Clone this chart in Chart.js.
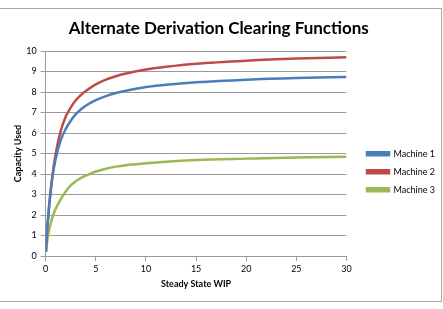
<!DOCTYPE html>
<html>
<head>
<meta charset="utf-8">
<script src="https://cdn.jsdelivr.net/npm/chart.js@4.4.1/dist/chart.umd.min.js"></script>
<style>
  body { margin: 0; background: #fff; }
  #wrap { position: relative; width: 443px; height: 309px; overflow: hidden; }
  #frame { position: absolute; left: -1px; top: 8px; width: 443px; height: 294px; box-sizing: border-box; border: 1px solid #a8a8a8; }
  #myChart { position: absolute; left: 0; top: 0; }
</style>
</head>
<body>
<div id="wrap">
  <div id="frame"></div>
  <canvas id="myChart" width="443" height="309"></canvas>
</div>
<script>
'use strict';

//steady state wip values (x)
let wip = [0.02, 0.1, 0.25, 0.5, 0.75, 1, 1.5, 2, 2.5, 3, 3.5, 4, 5, 6, 7, 8, 10, 12, 15, 20, 25, 30];
//capacity used for each machine
let machine1 = [0.2, 0.95, 1.95, 3.2, 4.1, 4.75, 5.65, 6.2, 6.6, 6.92, 7.15, 7.33, 7.6, 7.8, 7.95, 8.06, 8.24, 8.35, 8.47, 8.6, 8.68, 8.73];
let machine2 = [0.2, 1.0, 1.9, 3.2, 4.2, 5.0, 6.1, 6.8, 7.25, 7.6, 7.85, 8.05, 8.37, 8.6, 8.77, 8.9, 9.1, 9.23, 9.38, 9.53, 9.63, 9.69];
let machine3 = [0.2, 0.55, 1.05, 1.6, 2.0, 2.3, 2.78, 3.15, 3.45, 3.65, 3.8, 3.92, 4.12, 4.26, 4.36, 4.43, 4.52, 4.6, 4.68, 4.75, 4.81, 4.84];
let seriesNames = ['Machine 1', 'Machine 2', 'Machine 3'];
let seriesColors = ['#4a7ebb', '#be4b48', '#98b954'];

//turn x and y arrays into points
function toPoints(ys){
    let pts = [];
    for (let i = 0; i < wip.length; i++){
        pts.push({x: wip[i], y: ys[i]});
    }
    return pts;
}

let allSeries = [machine1, machine2, machine3];
let datasets = [];
for (let i = 0; i < allSeries.length; i++){
    datasets.push({
        label: seriesNames[i],
        data: toPoints(allSeries[i]),
        borderColor: seriesColors[i],
        backgroundColor: seriesColors[i],
        borderWidth: 2.5,
        pointRadius: 0,
        showLine: true,
        tension: 0.4,
        cubicInterpolationMode: 'monotone'
    });
}

Chart.defaults.font.family = 'Lato';
Chart.defaults.color = '#000';

let gridColor = '#9a9a9a';
let plotRight = 346.5;
let legendShiftX = 11.5;
let legendShiftY = 25;

//excel puts the legend a bit lower and further right than chart.js does
const legendNudge = {
    id: 'legendNudge',
    afterLayout(chart){
        chart.legend.left += legendShiftX;
        chart.legend.right += legendShiftX;
        chart.legend.top += legendShiftY;
        chart.legend.bottom += legendShiftY;
    }
};

const ctx = document.getElementById('myChart').getContext('2d');
const myChart = new Chart(ctx, {
    type: 'scatter',
    data: { datasets: datasets },
    plugins: [legendNudge],
    options: {
        responsive: false,
        animation: false,
        layout: { padding: { left: 4, top: 0, right: 20, bottom: 15.6 } },
        plugins: {
            title: {
                display: true,
                text: 'Alternate Derivation Clearing Functions',
                font: { size: 17, weight: 'bold' },
                color: '#000',
                padding: { top: 18, bottom: 51 - 18 - 20.4 }
            },
            legend: {
                position: 'right',
                labels: {
                    boxWidth: 22,
                    boxHeight: 3,
                    padding: 9,
                    font: { size: 9 }
                }
            },
            tooltip: { enabled: false }
        },
        scales: {
            x: {
                type: 'linear',
                min: 0,
                max: 30,
                ticks: { stepSize: 5, padding: 3, font: { size: 9 } },
                grid: { drawOnChartArea: false, tickLength: 5, color: gridColor },
                border: { color: gridColor },
                title: { display: true, text: 'Steady State WIP', font: { size: 9, weight: 'bold' }, padding: { top: 0, bottom: 4 } },
                afterFit: function(scale){ scale.height = 37.4; }
            },
            y: {
                min: 0,
                max: 10,
                ticks: { stepSize: 1, padding: 4, font: { size: 9 } },
                grid: { tickLength: 5, color: gridColor },
                border: { color: gridColor },
                title: { display: true, text: 'Capacity Used', font: { size: 9, weight: 'bold' }, padding: { top: 8.3, bottom: 0 } },
                afterFit: function(scale){ scale.width = 41.7; }
            }
        }
    }
});

//legend width is only known after the first layout
myChart.options.layout.padding.right = Math.max(0, 443 - plotRight - myChart.legend.width);
myChart.update();
</script>
</body>
</html>
